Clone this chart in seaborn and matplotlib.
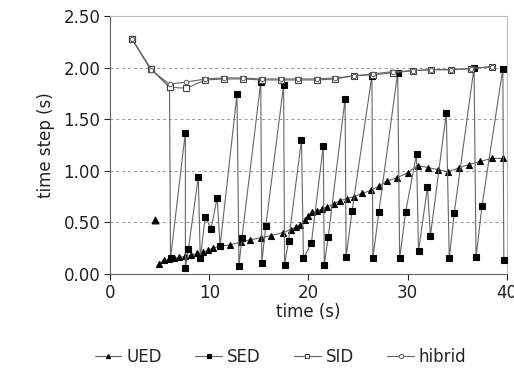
import matplotlib
matplotlib.use("Agg")
import matplotlib.pyplot as plt
import seaborn as sns
import pandas as pd

# ---- data ----
sid_t = [2.2, 4.1, 6.0, 7.7, 9.6, 11.5, 13.4, 15.3, 17.2, 19.0, 20.9, 22.7,
         24.6, 26.5, 28.5, 30.5, 32.4, 34.4, 36.4, 38.5]
sid_dt = [2.28, 1.99, 1.81, 1.80, 1.88, 1.89, 1.89, 1.88, 1.88, 1.88, 1.88, 1.89,
          1.92, 1.93, 1.95, 1.97, 1.98, 1.98, 1.99, 2.01]

hib_t = sid_t
hib_dt = [2.28, 1.98, 1.84, 1.86, 1.89, 1.90, 1.90, 1.89, 1.89, 1.89, 1.89, 1.90,
          1.92, 1.94, 1.96, 1.97, 1.98, 1.98, 1.99, 2.01]

# first UED sample is an isolated point (not joined by the line)
ued_t = [4.55, 4.9, 5.4, 5.9, 6.5, 7.0, 7.6, 8.2, 8.8, 9.4, 9.9, 10.4, 11.1, 12.1,
         13.2, 14.1, 15.2, 16.2, 17.4, 18.2, 18.7, 19.2, 19.7, 20.0, 20.4, 20.9,
         21.4, 21.9, 22.6, 23.2, 23.9, 24.6, 25.4, 26.3, 27.1, 27.9, 28.9, 30.0,
         31.0, 32.1, 33.1, 34.1, 35.2, 36.2, 37.3, 38.5, 39.6]
ued_dt = [0.52, 0.10, 0.13, 0.14, 0.15, 0.16, 0.17, 0.18, 0.20, 0.21, 0.23, 0.25,
          0.27, 0.28, 0.31, 0.33, 0.35, 0.37, 0.40, 0.43, 0.45, 0.47, 0.52, 0.56,
          0.60, 0.61, 0.63, 0.65, 0.68, 0.71, 0.73, 0.75, 0.78, 0.81, 0.85, 0.90,
          0.93, 0.98, 1.05, 1.03, 1.01, 0.99, 1.03, 1.06, 1.09, 1.12, 1.12]

sed_t = [2.2, 4.1, 6.0, 6.1, 7.6, 7.6, 7.9, 8.9, 9.1, 9.6, 10.2, 10.8, 11.1, 12.8,
         13.0, 13.3, 15.2, 15.3, 15.7, 17.5, 17.6, 18.0, 19.3, 19.5, 20.3, 21.5,
         21.6, 22.0, 23.7, 23.8, 24.4, 26.4, 26.5, 27.1, 29.0, 29.2, 29.8, 30.9,
         31.1, 32.0, 32.3, 33.9, 34.2, 34.7, 36.7, 36.9, 37.5, 39.6, 39.7]
sed_dt = [2.28, 1.99, 1.81, 0.15, 1.37, 0.06, 0.24, 0.94, 0.15, 0.55, 0.44, 0.74,
          0.27, 1.74, 0.08, 0.35, 1.86, 0.11, 0.46, 1.83, 0.09, 0.32, 1.30, 0.15,
          0.30, 1.24, 0.09, 0.36, 1.70, 0.16, 0.61, 1.92, 0.15, 0.60, 1.95, 0.15,
          0.60, 1.16, 0.22, 0.84, 0.37, 1.56, 0.15, 0.59, 2.00, 0.16, 0.66, 1.99, 0.13]

x_ticks = [0, 10, 20, 30, 40]
y_ticks = [0.00, 0.50, 1.00, 1.50, 2.00, 2.50]

sns.set_theme(style="white")
plt.rcParams['font.family'] = ['DejaVu Sans']

FS = 12
fig = plt.figure(figsize=(5.14, 3.82), dpi=100)
ax = fig.add_axes([0.214, 0.283, 0.772, 0.675])

line_col = "#666666"

def draw(t, dt, label, marker, ms, mfc, mec, z):
    df = pd.DataFrame({"t": t, "dt": dt})
    sns.lineplot(data=df, x="t", y="dt", ax=ax, sort=False, estimator=None,
                 color=line_col, lw=0.8, marker=marker, markersize=ms,
                 markerfacecolor=mfc, markeredgecolor=mec, markeredgewidth=0.8,
                 label=label, zorder=z)

# isolated first UED point
sns.scatterplot(x=ued_t[:1], y=ued_dt[:1], ax=ax, marker="^", s=24,
                color="black", edgecolor="black", linewidth=0.8, zorder=3)
draw(ued_t[1:], ued_dt[1:], "UED", "^", 4.5, "black", "black", 3)
draw(sed_t, sed_dt, "SED", "s", 4.0, "black", "black", 4)
draw(sid_t, sid_dt, "SID", "s", 5.0, "white", "#444444", 5)
draw(hib_t, hib_dt, "hibrid", "o", 3.2, "white", "#666666", 6)

ax.set_xlim(0, 40)
ax.set_ylim(0, 2.5)
ax.set_xticks(x_ticks)
ax.set_yticks(y_ticks)
ax.set_yticklabels([f"{v:.2f}" for v in y_ticks])
ax.tick_params(axis="both", labelsize=FS, colors="#222222", length=4,
               direction="out", bottom=True, left=True, width=0.8, pad=3)
for y in y_ticks[1:-1]:
    ax.axhline(y, color="#999999", lw=0.7, ls=(0, (3, 3)), zorder=1)
for side in ["left", "bottom"]:
    ax.spines[side].set_color("#666666")
    ax.spines[side].set_linewidth(0.8)
for side in ["top", "right"]:
    ax.spines[side].set_color("#bbbbbb")
    ax.spines[side].set_linewidth(0.8)

ax.set_xlabel("time (s)", fontsize=FS, color="#222222", labelpad=1)
ax.set_ylabel("time step (s)", fontsize=FS, color="#222222", labelpad=6)

leg = ax.legend(loc="upper center", bbox_to_anchor=(0.43, -0.23), ncol=4,
                frameon=False, fontsize=FS, handlelength=1.6,
                columnspacing=2.0, handletextpad=0.3)
for h in leg.legend_handles:
    h.set_markersize(3.0)

fig.savefig("out.png", dpi=100)
